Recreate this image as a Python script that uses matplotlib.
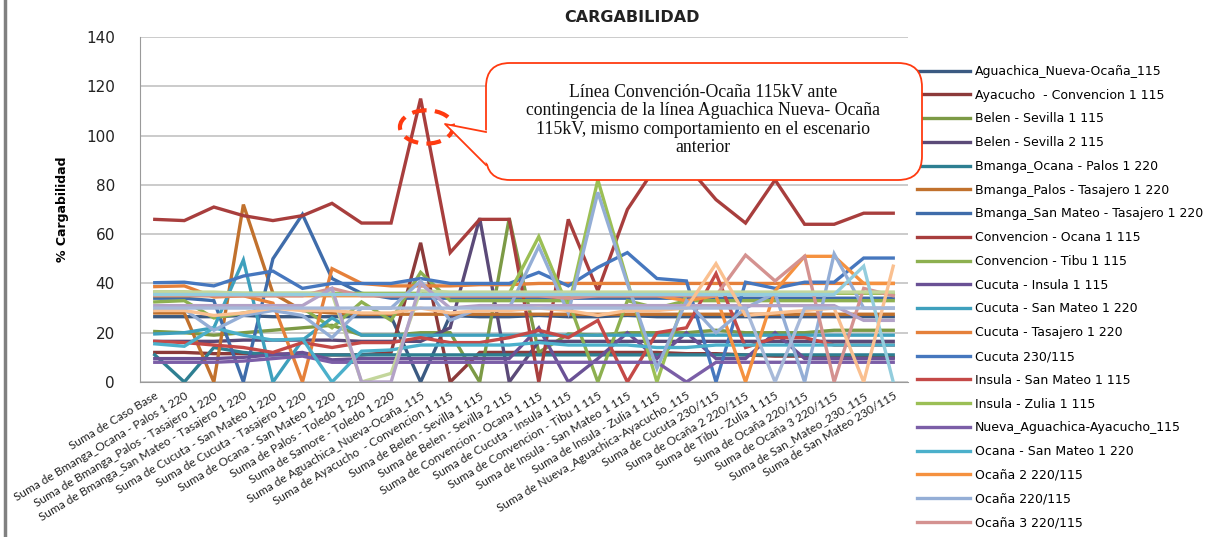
import numpy as np
import matplotlib
matplotlib.use("Agg")
import matplotlib.pyplot as plt
from matplotlib.patches import FancyBboxPatch, Polygon, Ellipse
from matplotlib.lines import Line2D
from matplotlib.transforms import IdentityTransform

# contingencias (eje x)
categorias = ['Suma de Caso Base', 'Suma de Bmanga_Ocana - Palos 1 220',
              'Suma de Bmanga_Palos - Tasajero 1 220', 'Suma de Bmanga_San Mateo - Tasajero 1 220',
              'Suma de Cucuta - San Mateo 1 220', 'Suma de Cucuta - Tasajero 1 220',
              'Suma de Ocana - San Mateo 1 220', 'Suma de Palos - Toledo 1 220',
              'Suma de Samore - Toledo 1 220', 'Suma de Aguachica_Nueva-Ocaña_115',
              'Suma de Ayacucho  - Convencion 1 115', 'Suma de Belen - Sevilla 1 115',
              'Suma de Belen - Sevilla 2 115', 'Suma de Convencion - Ocana 1 115',
              'Suma de Cucuta - Insula 1 115', 'Suma de Convencion - Tibu 1 115',
              'Suma de Insula - San Mateo 1 115', 'Suma de Insula - Zulia 1 115',
              'Suma de Nueva_Aguachica-Ayacucho_115', 'Suma de Cucuta 230/115',
              'Suma de Ocaña 2 220/115', 'Suma de Tibu - Zulia 1 115',
              'Suma de Ocaña 220/115', 'Suma de Ocaña 3 220/115',
              'Suma de San_Mateo_230_115', 'Suma de San Mateo 230/115']

# % cargabilidad por elemento
aguachica = [26.5, 26.5, 26.5, 27, 26.5, 26.5, 26.5, 26.5, 26.5, 0, 27, 26.5, 26.5, 27, 26.5, 26.5, 27, 26.5, 26.5, 26.5, 26.5, 26.5, 26.5, 26.5, 26.5, 26.5]
ayacucho = [12, 12, 11.5, 11.5, 11.5, 11, 11, 11, 12, 56.5, 0, 12, 12, 12, 12, 12, 12, 12, 11.5, 11.5, 11, 10.5, 10.5, 10.5, 10, 10]
belen1 = [20.5, 20, 19, 20, 21, 22, 23, 19, 19, 20, 20, 0, 66.5, 12, 19.5, 19, 20, 20, 20, 21, 20, 20, 20, 21, 21, 21]
belen2 = [16.5, 16.5, 16.5, 17, 17, 17, 17, 16.5, 16.5, 16.5, 22, 66.5, 0, 16.5, 16.5, 16.5, 16.5, 16.5, 16.5, 16.5, 16.5, 16.5, 16.5, 16.5, 16.5, 16.5]
bmanga_ocana = [11, 0, 14, 12, 11, 11, 11, 11, 11, 11, 11, 11, 11, 11, 11, 11, 11, 11, 11, 11, 11, 11, 11, 11, 11, 11]
bmanga_palos = [28, 28, 0, 72, 36, 29, 28, 27.5, 27.5, 27.5, 27.5, 27.5, 27.5, 27.5, 27.5, 27.5, 27.5, 27.5, 27.5, 27.5, 27.5, 27.5, 27.5, 27.5, 27.5, 27.5]
bmanga_sanmateo = [34, 34, 33, 0, 50, 68, 42, 36, 34, 34, 34, 34, 34, 34, 34, 34, 34, 34, 34, 34, 34, 34, 34, 34, 34, 34]
conv_ocana = [66, 65.5, 71, 67.5, 65.5, 67.5, 72.5, 64.5, 64.5, 115, 52.5, 66, 66, 0, 66, 37, 70, 88, 88, 74, 64.5, 82, 64, 64, 68.5, 68.5]
conv_tibu = [32.5, 33, 26, 28, 30, 30, 22, 32.5, 25, 44.5, 33, 33, 33, 33, 33, 0, 33, 30, 33, 33, 33, 33, 33, 33, 33, 33]
cucuta_insula = [9.5, 9.5, 9.5, 10, 11, 12, 9, 9.5, 9.5, 9.5, 9.5, 9.5, 9.5, 22, 0, 9.5, 20, 9.5, 20, 9.5, 9.5, 20, 9.5, 9.5, 9.5, 9.5]
cucuta_sanmateo = [19.5, 20, 22, 49.5, 0, 17, 26, 19, 19, 19, 19, 19, 19, 19, 19, 19, 19, 19, 19, 19, 19, 19, 19, 19, 19, 19]
cucuta_tasajero = [38.7, 39, 34.5, 35, 32, 0, 46, 40, 39, 39, 39, 39.5, 39.5, 40, 40, 40, 40, 40, 40, 40, 40, 40, 40, 40, 40, 40]
cucuta_230 = [40.3, 40.5, 39, 43, 45, 38, 40, 40, 40, 42, 40, 40, 40, 44.5, 39, 46.5, 52.5, 42, 41, 0, 40.5, 38, 40.5, 40.5, 50.3, 50.3]
insula_sanmateo = [16.5, 16, 15, 14, 12, 16, 14, 16, 16, 18, 16, 16, 18, 21, 18, 25, 0, 20, 22, 44, 14, 18, 18, 15, 15, 15]
insula_zulia = [36.5, 36.5, 36, 36, 36, 36, 36, 36, 36, 36, 36, 36, 36, 59, 30, 82, 41, 0, 36, 36, 36, 36, 36, 36, 36, 36]
nueva_aguachica = [8, 8, 8, 8.5, 9.5, 10.5, 8, 8, 8, 8, 8, 8, 8, 8, 8, 8, 8, 8, 0, 8, 8, 8, 8, 8, 8, 8]
ocana_sanmateo = [15.5, 14.5, 22, 19, 17, 17.5, 0, 12.5, 13, 15, 15, 15, 15, 16, 15, 15, 15, 14, 14, 15, 15, 15, 15, 15, 15, 15]
ocana2 = [35, 35, 35, 35, 35, 35, 35, 35, 35, 35, 35, 35, 35, 35, 35, 35, 35, 35, 33, 35, 0, 37, 51, 51, 40, 40]
ocana220 = [29, 29.5, 21, 27, 29, 27, 18, 30, 30, 41, 25, 30, 30, 55, 28, 77, 40, 5.5, 33, 20, 30, 36, 0, 52, 30, 30]
ocana3 = [35.3, 35.3, 35, 35, 35, 35, 38, 35, 35, 35, 35, 35, 35, 35, 34, 35, 35, 35, 35, 35, 51.5, 41, 51, 0, 38, 35]
palos_toledo = [36.5, 36.5, 36.5, 36, 36, 36, 36, 0, 3.5, 37, 36.5, 36.5, 36.5, 36.5, 36.5, 36.5, 36.5, 36.5, 36.5, 36.5, 36.5, 36.5, 36.5, 36.5, 36.5, 36.5]
samore_toledo = [31, 31, 31, 31, 31, 31, 38, 0, 0, 40, 30, 31, 31, 31, 31, 31, 31, 31, 31, 31, 31, 31, 31, 31, 25, 25]
sanmateo_230 = [35.5, 35.5, 35.5, 35.5, 35.5, 35.5, 35.5, 35.5, 35.5, 35.5, 35.5, 35.5, 35.5, 35.5, 35.5, 35.5, 35.5, 35.5, 35.5, 35.5, 35.5, 35.5, 35.5, 35.5, 47, 0]
sanmateo_230_115 = [29, 29, 27, 28, 30, 29, 29, 28, 28, 30, 28, 29, 29, 30, 29, 27, 29, 29, 30, 48, 27, 28, 29, 30, 0, 47]
tibu_zulia = [30, 30, 30, 30, 30, 30, 30, 30, 30, 30, 30, 30, 30, 30, 30, 30, 30, 30, 30, 30, 30, 0, 30, 30, 30, 30]

series = [
    ('Aguachica_Nueva-Ocaña_115', aguachica, '#3B5A82'),
    ('Ayacucho  - Convencion 1 115', ayacucho, '#8C3A3A'),
    ('Belen - Sevilla 1 115', belen1, '#7C9A45'),
    ('Belen - Sevilla 2 115', belen2, '#5B4A78'),
    ('Bmanga_Ocana - Palos 1 220', bmanga_ocana, '#2E7F92'),
    ('Bmanga_Palos - Tasajero 1 220', bmanga_palos, '#C1712D'),
    ('Bmanga_San Mateo - Tasajero 1 220', bmanga_sanmateo, '#3F6CAA'),
    ('Convencion - Ocana 1 115', conv_ocana, '#A83E3D'),
    ('Convencion - Tibu 1 115', conv_tibu, '#8DB050'),
    ('Cucuta - Insula 1 115', cucuta_insula, '#6A5195'),
    ('Cucuta - San Mateo 1 220', cucuta_sanmateo, '#3EA0BD'),
    ('Cucuta - Tasajero 1 220', cucuta_tasajero, '#E5803A'),
    ('Cucuta 230/115', cucuta_230, '#4677BE'),
    ('Insula - San Mateo 1 115', insula_sanmateo, '#C44947'),
    ('Insula - Zulia 1 115', insula_zulia, '#9BBF55'),
    ('Nueva_Aguachica-Ayacucho_115', nueva_aguachica, '#7B5EA7'),
    ('Ocana - San Mateo 1 220', ocana_sanmateo, '#4BB0CB'),
    ('Ocaña 2 220/115', ocana2, '#F5913F'),
    ('Ocaña 220/115', ocana220, '#94AED6'),
    ('Ocaña 3 220/115', ocana3, '#D49290'),
    ('Palos - Toledo 1 220', palos_toledo, '#C3D69B'),
    ('Samore - Toledo 1 220', samore_toledo, '#B3A2C7'),
    ('San Mateo 230/115', sanmateo_230, '#93CDDD'),
    ('San_Mateo_230_115', sanmateo_230_115, '#FAC090'),
    ('Tibu - Zulia 1 115', tibu_zulia, '#A7B9D9'),
]

W, H = 1225, 537
fig = plt.figure(figsize=(W / 100, H / 100), dpi=100)
ax = fig.add_axes([140 / W, 1 - 382 / H, 768 / W, 345 / H])

x = np.arange(len(categorias))
lineas = []
for nombre, vals, col in series:
    l, = ax.plot(x, vals, color=col, lw=2.4, solid_joinstyle='miter', label=nombre)
    lineas.append(l)

ax.set_xlim(-0.5, len(categorias) - 0.5)
ax.set_ylim(0, 140)
ax.set_yticks(np.arange(0, 141, 20))
ax.tick_params(axis='y', length=0, labelsize=11, pad=18, colors='#222222')
ax.set_xticks(x)
ax.set_xticklabels(categorias, rotation=31, ha='right', rotation_mode='anchor',
                   fontsize=8.6, family='Lato', color='#222222')
ax.tick_params(axis='x', length=0, pad=6)
ax.grid(axis='y', color='#BDBDBD', lw=1.1)
ax.set_axisbelow(True)
for s in ['top', 'right']:
    ax.spines[s].set_visible(False)
ax.spines['left'].set_color('#9A9A9A')
ax.spines['bottom'].set_color('#9A9A9A')
ax.set_ylabel('% Cargabilidad', fontsize=9, fontweight='bold', labelpad=12)
fig.text(632 / W, 1 - 18 / H, 'CARGABILIDAD', ha='center', va='center',
         fontsize=11.5, fontweight='bold', color='#222222')

# borde izquierdo del área del gráfico
fig.add_artist(Line2D([5 / W, 5 / W], [0, 1], transform=fig.transFigure, color='#808080', lw=2.5))

# elipse punteada sobre el pico
ax.add_patch(Ellipse((9.2, 103.5), 1.8, 13.5, fill=False, edgecolor='#FF3A10',
                     lw=3, linestyle=(0, (3.5, 2.0)), zorder=30))

# globo de texto (coordenadas en píxeles)
def py(v):
    return H - v

tr = IdentityTransform()
caja = FancyBboxPatch((486, py(180)), 436, 117, boxstyle='round,pad=0,rounding_size=24',
                      transform=tr, facecolor='white', edgecolor='#FF3A10', lw=1.3, zorder=10)
fig.add_artist(caja)
fig.add_artist(Polygon([(490, py(131)), (445, py(124)), (490, py(166))], closed=True,
                       transform=tr, facecolor='white', edgecolor='none', zorder=11))
fig.add_artist(Line2D([486, 445, 486], [py(132), py(124), py(165)], transform=tr,
                      color='#FF3A10', lw=1.3, zorder=12))
fig.text(703 / W, 1 - 120 / H,
         'Línea Convención-Ocaña 115kV ante\ncontingencia de la línea Aguachica Nueva- Ocaña\n'
         '115kV, mismo comportamiento en el escenario\nanterior',
         ha='center', va='center', fontsize=12.8, family='Liberation Serif',
         linespacing=1.1, color='#111111', zorder=13)

fig.legend(handles=lineas[:20], loc='upper left', bbox_to_anchor=(917 / W, 1 - 65 / H),
           frameon=False, fontsize=9, handlelength=4.2, handletextpad=0.45,
           labelspacing=0.86, borderpad=0, borderaxespad=0)

fig.savefig('out.png', dpi=100)
